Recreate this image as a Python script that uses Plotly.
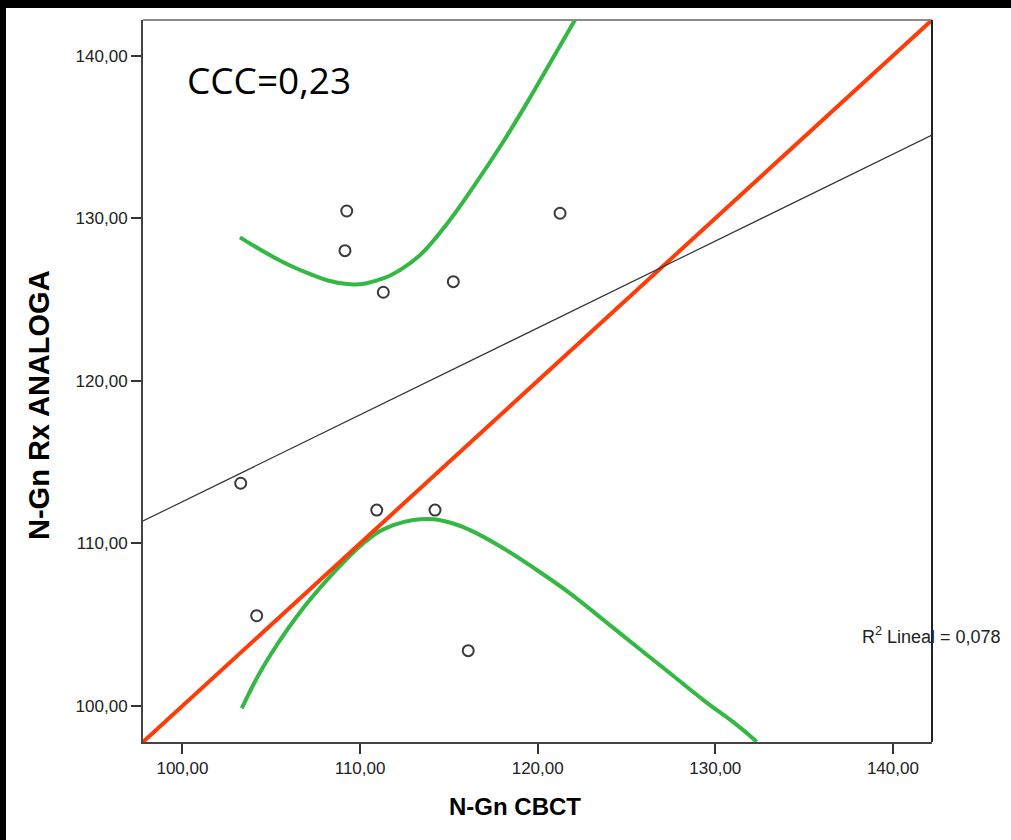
import numpy as np
import plotly.graph_objects as go

# Measurements (mm): CBCT vs analog radiograph, N-Gn distance
cbct = [103.28, 104.18, 109.15, 109.25, 111.31, 110.94, 114.22, 115.25, 116.09, 121.26]
analoga = [113.70, 105.55, 128.01, 130.45, 125.45, 112.05, 112.05, 126.10, 103.40, 130.31]

# Upper and lower green band curves
upper_band_x = [103.24, 106.62, 109.43, 111.31, 112.25, 113.38, 115.06, 116.38, 117.88, 119.38, 120.69, 122.10]
upper_band_y = [128.83, 126.82, 125.94, 126.31, 126.82, 127.74, 129.90, 131.94, 134.40, 137.07, 139.54, 142.20]
lower_band_x = [103.34, 104.55, 106.43, 108.31, 110.18, 111.50, 113.38, 114.88, 116.19, 118.07,
                119.95, 121.82, 123.70, 125.58, 127.45, 129.33, 131.21, 132.33]
lower_band_y = [99.85, 102.41, 105.49, 107.95, 110.00, 110.95, 111.48, 111.33, 110.82, 109.70,
                108.36, 106.93, 105.29, 103.64, 102.01, 100.36, 98.83, 97.80]

tick_vals = [100, 110, 120, 130, 140]
tick_text = ["100,00", "110,00", "120,00", "130,00", "140,00"]
axis_range = [97.78, 142.20]

ccc_label = "CCC=0,23"
r2_linear = 0.078

# Least-squares fit line
slope, intercept = np.polyfit(cbct, analoga, 1)
fit_x = np.array(axis_range)
fit_y = slope * fit_x + intercept

green = dict(color="rgb(52,184,68)", width=4, shape="spline", smoothing=1.2)

fig = go.Figure()
fig.add_trace(go.Scatter(x=upper_band_x, y=upper_band_y, mode="lines", line=green, hoverinfo="skip"))
fig.add_trace(go.Scatter(x=lower_band_x, y=lower_band_y, mode="lines", line=green, hoverinfo="skip"))
# Line of identity (perfect agreement)
fig.add_trace(go.Scatter(x=axis_range, y=axis_range, mode="lines",
                         line=dict(color="rgb(255,60,8)", width=4), hoverinfo="skip"))
fig.add_trace(go.Scatter(x=fit_x, y=fit_y, mode="lines",
                         line=dict(color="#333333", width=1.2), hoverinfo="skip"))
fig.add_trace(go.Scatter(x=cbct, y=analoga, mode="markers",
                         marker=dict(symbol="circle-open", size=11, color="#3a3a3a",
                                     line=dict(width=2, color="#3a3a3a"))))

axis_common = dict(
    range=axis_range, tickvals=tick_vals, ticktext=tick_text,
    showgrid=False, zeroline=False, showline=True, linecolor="#444444", linewidth=2,
    ticks="outside", ticklen=10, tickwidth=2, tickcolor="#333333",
    tickfont=dict(family="Liberation Sans, Arial", size=17, color="#222222"),
)

W, H = 1011, 840
ml, mr, mt, mb = 143, 79, 20, 98
pw, ph = W - ml - mr, H - mt - mb

fig.update_layout(
    width=W, height=H,
    margin=dict(l=ml, r=mr, t=mt, b=mb),
    paper_bgcolor="white", plot_bgcolor="white",
    showlegend=False,
    xaxis=axis_common,
    yaxis=axis_common,
    shapes=[
        # frame: top and right edges
        dict(type="line", xref="paper", yref="paper", x0=0, x1=1, y0=1, y1=1,
             line=dict(color="#8a8a8a", width=2)),
        dict(type="line", xref="paper", yref="paper", x0=1, x1=1, y0=0, y1=1,
             line=dict(color="#222222", width=2)),
        # dark page borders
        dict(type="rect", xref="paper", yref="paper", layer="above",
             x0=-(ml + 5) / pw, x1=1 + (mr + 5) / pw, y0=1 + (mt - 8) / ph, y1=1 + (mt + 10) / ph,
             fillcolor="black", line=dict(width=0)),
        dict(type="rect", xref="paper", yref="paper", layer="above",
             x0=-(ml + 10) / pw, x1=-(ml - 6) / pw, y0=-(mb + 10) / ph, y1=1 + (mt + 10) / ph,
             fillcolor="black", line=dict(width=0)),
    ],
    annotations=[
        dict(text=ccc_label, xref="paper", yref="paper", x=(185 - ml) / pw, y=(742 - 79) / ph,
             xanchor="left", yanchor="middle", showarrow=False,
             font=dict(family="Open Sans", size=37, color="black")),
        dict(text=f"R<sup>2</sup> Lineal = {r2_linear:.3f}".replace(".", ","), xref="paper", yref="paper",
             x=(860 - ml) / pw, y=(742 - 635) / ph, xanchor="left", yanchor="middle",
             showarrow=False, font=dict(family="Liberation Sans, Arial", size=18, color="#222222")),
        dict(text="<b>N-Gn CBCT</b>", xref="paper", yref="paper", x=(515 - ml) / pw, y=-(806 - 742) / ph,
             xanchor="center", yanchor="middle", showarrow=False,
             font=dict(family="Liberation Sans, Arial", size=24, color="black")),
        dict(text="<b>N-Gn Rx ANALOGA</b>", xref="paper", yref="paper", x=-(ml - 39) / pw,
             y=(742 - 405) / ph, xanchor="center", yanchor="middle", textangle=-90, showarrow=False,
             font=dict(family="Liberation Sans, Arial", size=29, color="black")),
    ],
)

fig.write_html("out.html")
